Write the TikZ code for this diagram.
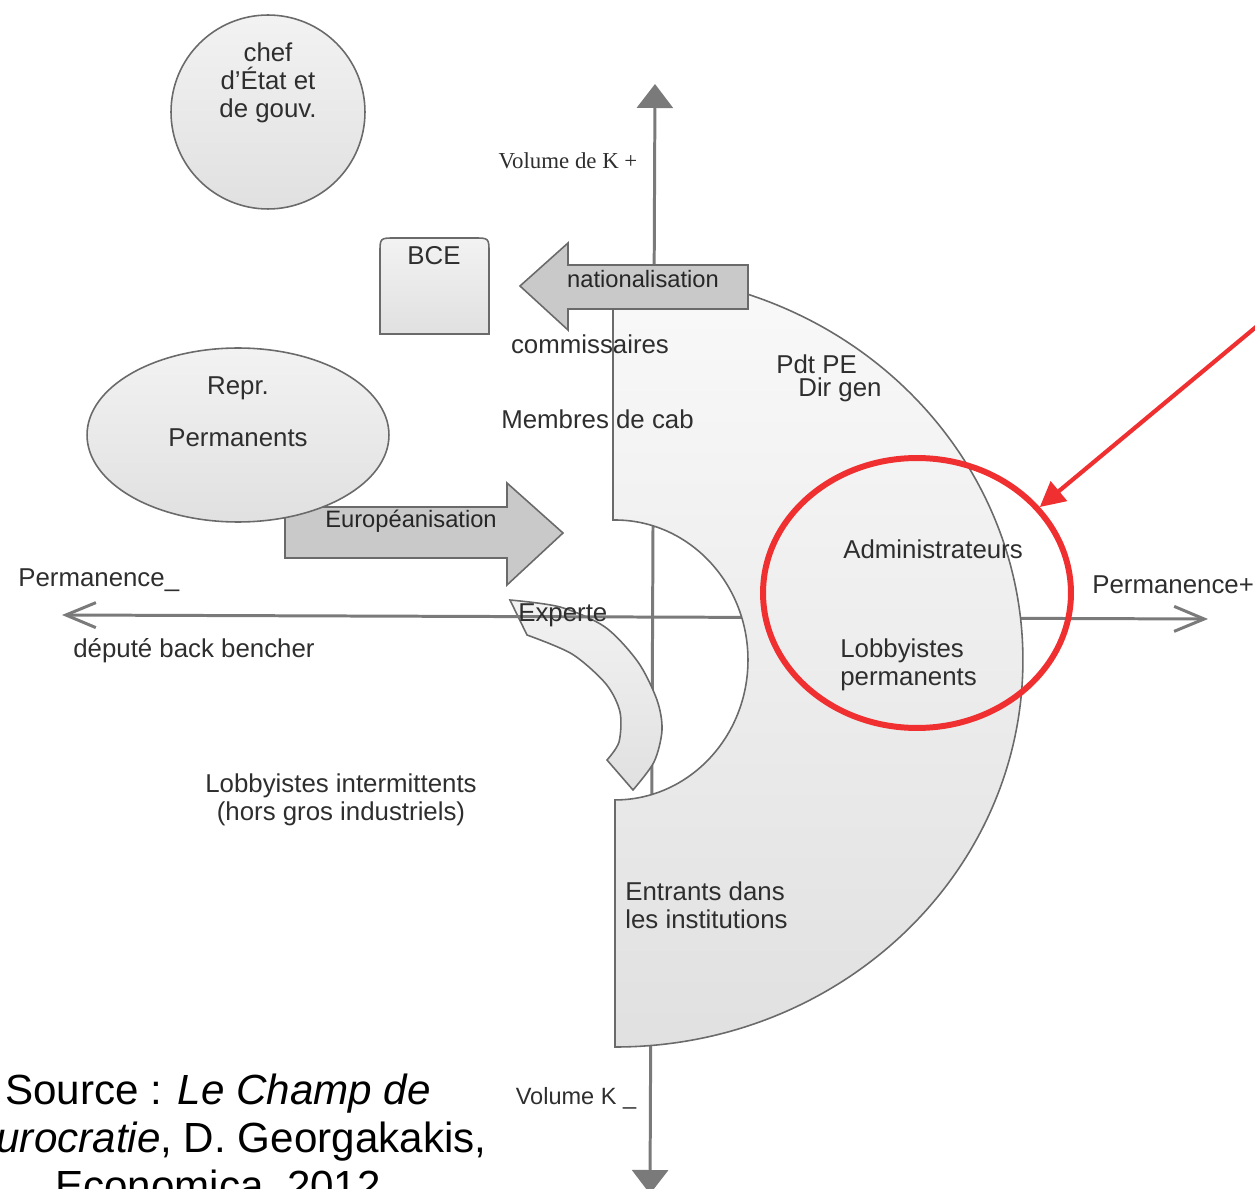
\documentclass[tikz,border=0pt]{standalone}
\usepackage{fontspec}
\setmainfont{Liberation Sans}
\newfontfamily\volfont{Liberation Serif}
\usetikzlibrary{arrows.meta,shapes.geometric}
\definecolor{inkgray}{HTML}{2E2E2E}
\definecolor{axisgray}{HTML}{7A7A7A}
\definecolor{edgegray}{HTML}{6A6A6A}
\definecolor{markred}{HTML}{F03030}
\begin{document}
\begin{tikzpicture}[x=0.02cm, y=-0.02cm,
    lbl/.style={text=inkgray, inner sep=0pt, font=\fontsize{14.7}{15.8}\selectfont},
    axisline/.style={draw=axisgray, line width=1.7pt},
    blob/.style={draw=edgegray, line width=0.9pt, top color=gray!10, bottom color=gray!24},
    field/.style={draw=edgegray, line width=0.9pt, top color=gray!5, bottom color=gray!24},
    bigarrow/.style={draw=edgegray, line width=0.9pt, fill=gray!42},
    ring/.style={draw=markred, line width=3.4pt}]
\useasboundingbox (0,0) rectangle (1255,1189);
\clip (0,0) rectangle (1255,1189);

% axes
\coordinate (ktop) at (655,84);
\coordinate (kbot) at (650,1194);
\coordinate (pmin) at (62,615);
\coordinate (pmax) at (1208,619);
\draw[axisline, {Triangle[length=0.48cm,width=0.72cm]}-{Triangle[length=0.48cm,width=0.72cm]}] (ktop) -- (kbot);

% experte
\filldraw[blob] plot[smooth] coordinates {(510,600) (560,607) (605,627) (638,662) (657,700) (662,730) (654,762) (633,790)}
  -- plot[smooth] coordinates {(607,760) (619,742) (620,712) (606,684) (572,654) (527,635)} -- cycle;

\draw[axisline, {Straight Barb[length=0.6cm,width=0.5cm]}-{Straight Barb[length=0.6cm,width=0.5cm]}] (pmin) -- (pmax);

% the big field
\filldraw[field] (613,300) -- (613,520) -- (615,520)
  arc[start angle=90, end angle=-90, x radius=2.66cm, y radius=2.8cm]
  -- (615,1047)
  arc[start angle=-90, end angle=71.4, x radius=8.16cm, y radius=7.74cm]
  -- cycle;

% nationalisation
\filldraw[bigarrow] (748,265) -- (568,265) -- (568,243) -- (520,286) -- (568,330) -- (568,309) -- (748,309) -- cycle;
\node[lbl, font=\fontsize{13.5}{15}\selectfont, text=black!85] (natio) at (643,279) {nationalisation};

% europeanisation
\filldraw[bigarrow] (285,507) -- (507,507) -- (507,483) -- (563,533) -- (507,585) -- (507,558) -- (285,558) -- cycle;
\node[lbl, font=\fontsize{13.5}{15}\selectfont, text=black!85] (europ) at (411,521) {Européanisation};

% blobs
\node[blob, circle, minimum size=3.88cm] (chef) at (268,112) {};
\node[lbl, align=center] (cheftxt) at (268,83) {chef\\d'État et\\de gouv.};
\node[blob, ellipse, minimum width=6.04cm, minimum height=3.48cm] (repr) at (238,435) {};
\node[lbl] (reprtxt) at (238,388) {Repr.};
\node[lbl] (permtxt) at (238,438) {Permanents};
\filldraw[blob] (380,334) -- (380,253) .. controls (380,238) .. (395,238) -- (474,238)
  .. controls (489,238) .. (489,253) -- (489,334) -- cycle;
\node[lbl] (bce) at (434,256) {BCE};

% labels
\node[lbl, font=\volfont\fontsize{13}{15}\selectfont] (kplus) at (568,161) {Volume de K +};
\node[lbl, font=\fontsize{13.4}{15}\selectfont] (kmoins) at (576,1098) {Volume K \_};
\node[lbl] (comm) at (590,344) {commissaires};
\node[lbl, anchor=west] (pdt) at (776,364) {Pdt PE};
\node[lbl, anchor=west] (dirgen) at (798,390) {Dir gen};
\node[lbl, anchor=west] (cab) at (501,419) {Membres de cab};
\node[lbl, anchor=west] (admin) at (843,549) {Administrateurs};
\node[lbl, anchor=west] (permmoins) at (18,580) {Permanence\_};
\node[lbl, anchor=west] (permplus) at (1092,585) {Permanence+};
\node[lbl, anchor=west] (experte) at (518,615) {Experte};
\node[lbl, anchor=west] (depute) at (73,651) {député back bencher};
\node[lbl, anchor=west, align=left] (lobbyperm) at (840,665) {Lobbyistes\\permanents};
\node[lbl, align=center] (lobbyint) at (341,800) {Lobbyistes intermittents\\(hors gros industriels)};
\node[lbl, anchor=west, align=left] (entrants) at (625,905) {Entrants dans\\les institutions};

% source
\node[inner sep=0pt, align=center, font=\fontsize{24}{27.5}\selectfont] (source) at (218,1140)
  {Source : \textit{Le Champ de}\\\textit{l'Eurocratie}, D. Georgakakis,\\Economica, 2012};

% red mark
\node[ring, ellipse, minimum width=6.16cm, minimum height=5.4cm, inner sep=0pt] (redring) at (917,593) {};
\coordinate (redstart) at (1262,322);
\draw[ring, line width=2.4pt, -{Triangle[length=0.5cm,width=0.5cm]}] (redstart) -- (redring.35);
\end{tikzpicture}
\end{document}
